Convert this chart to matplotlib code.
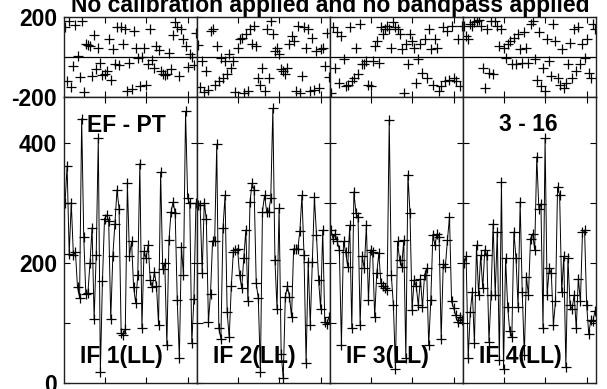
import matplotlib
matplotlib.use("Agg")
import matplotlib.pyplot as plt
import numpy as np

plt.rcParams['font.family'] = ['Liberation Sans', 'DejaVu Sans']
plt.rcParams['font.weight'] = 'bold'

title = "No calibration applied and no bandpass applied"
baseline_label = "EF - PT"
time_label = "3 - 16"
if_labels = ["IF 1(LL)", "IF 2(LL)", "IF 3(LL)", "IF 4(LL)"]
channels = list(range(1, 65))

amp_if1 = [300, 362, 215, 301, 214, 218, 160, 142, 441, 244, 148, 150, 200, 259, 107, 214,
           408, 19, 170, 274, 280, 270, 107, 212, 266, 322, 291, 84, 80, 90, 334, 212,
           236, 160, 133, 180, 366, 92, 220, 208, 230, 172, 160, 185, 162, 97, 352, 190,
           200, 63, 238, 285, 302, 283, 138, 41, 227, 180, 453, 308, 300, 66, 140, 300]
amp_if2 = [297, 297, 183, 301, 273, 102, 149, 237, 237, 398, 91, 74, 258, 313, 119, 76,
           161, 219, 222, 224, 180, 158, 208, 255, 136, 302, 333, 322, 166, 141, 19, 286,
           313, 286, 286, 308, 458, 205, 124, 292, 49, 8, 144, 161, 144, 110, 224, 223,
           224, 253, 313, 213, 33, 202, 97, 202, 310, 247, 172, 124, 255, 102, 99, 110]
amp_if3 = [255, 240, 249, 236, 222, 63, 236, 219, 194, 263, 91, 319, 283, 277, 97, 211,
           191, 263, 138, 222, 219, 110, 183, 216, 166, 161, 158, 155, 438, 180, 130, 24,
           236, 205, 194, 238, 41, 347, 283, 122, 172, 161, 130, 174, 127, 180, 191, 63,
           138, 247, 230, 249, 244, 74, 199, 194, 238, 277, 136, 125, 113, 102, 110, 105]
amp_if4 = [200, 211, 41, 119, 152, 66, 230, 147, 213, 158, 222, 213, 69, 147, 266, 147,
           252, 38, 336, 24, 208, 127, 86, 77, 252, 208, 127, 302, 152, 47, 177, 147,
           241, 249, 222, 377, 291, 299, 91, 408, 147, 191, 183, 97, 136, 327, 313, 152,
           211, 27, 208, 130, 124, 147, 91, 174, 136, 252, 255, 130, 82, 105, 103, 120]

phase_if1 = [150, -120, 178, -151, -45, 161, 5, -101, 178, -175, 67, 60, 55, -96, 111, -62,
             47, -29, -91, -84, -71, 89, -113, 39, -34, 151, -40, 148, 67, 139, -170, -29,
             -158, 128, 47, -3, -146, 0, 47, -138, -37, 139, -17, -54, 55, 34, -71, -84,
             -91, -87, 22, -62, 111, 173, 151, -96, 139, 89, 55, -50, 17, 0, -40, 120]
phase_if2 = [60, -150, -20, -175, -71, -163, 131, 139, -138, 55, -121, -3, -104, -20, -87, 13,
             -54, -20, -175, 47, 89, 97, -178, 114, -171, 139, 64, 156, 55, -104, -138, -54,
             -171, 139, -104, 178, 114, 30, 47, 13, -62, -71, -87, -54, 64, 106, 81, -171,
             156, -178, -96, 148, 47, 139, -171, 97, -163, 30, -155, 39, 47, -45, 120, -100]
phase_if3 = [-178, 148, -54, 123, -129, 106, -12, -146, -138, 148, -121, -104, 47, -87, 165, -37,
             -37, -20, -138, -146, -20, 55, 81, -29, 148, 114, 139, 156, 139, 47, 173, 148,
             139, 114, 39, -178, 64, -37, 114, 81, 47, -129, -12, 64, -79, 89, -104, 139,
             39, -138, 89, 47, -171, -146, 148, -121, 131, -113, 156, -104, -121, 89, -146, 156]
phase_if4 = [156, 106, 89, 165, 156, 173, 178, 185, 156, -54, -155, 139, -79, 180, -87, 180,
             156, 55, 139, 47, -3, 64, 81, -37, 97, -37, 114, 39, -29, 123, 47, -29,
             165, 178, -12, -113, 123, -146, -54, -171, 89, -20, -96, 165, 81, -104,
             -138, 39, -155, -129, -37, 72, -104, 139, -71, 148, -37, 64, -3, 89, -79, -104, 165, 139]

amps = [amp_if1, amp_if2, amp_if3, amp_if4]
phases = [phase_if1, phase_if2, phase_if3, phase_if4]

W, H = 607, 389
fig = plt.figure(figsize=(W / 100, H / 100), dpi=100)

x0, pw = 64, 133
fs = 16.5
spine_col = '#202020'

for k in range(4):
    left = (x0 + pw * k) / W
    axp = fig.add_axes([left, 1 - 97 / H, pw / W, 80 / H])
    axa = fig.add_axes([left, 1 - 383 / H, pw / W, 286 / H])

    axp.plot(channels, phases[k], ls='none', marker='+', ms=7, mew=0.9, color='black')
    axp.axhline(0, color='black', lw=0.9)
    axp.set_ylim(-200, 200)
    axa.plot(channels, amps[k], color='black', lw=0.7, marker='+', ms=7, mew=0.9)
    axa.set_ylim(0, 477)

    for ax in (axp, axa):
        ax.set_xlim(0.5, 64.5)
        ax.set_xticks([20, 40, 60])
        ax.tick_params(direction='in', length=4.5, width=0.8, top=True, right=True,
                       labelbottom=False, labelsize=fs, pad=5, colors='black')
        for s in ax.spines.values():
            s.set_linewidth(1.0)
            s.set_color(spine_col)

    axp.set_yticks([-200, 200])
    axa.set_yticks([0, 100, 200, 300, 400])
    if k == 0:
        axp.set_yticklabels(['-200', '200'], fontweight='bold')
        axa.set_yticklabels(['0', '', '200', '', '400'], fontweight='bold')
    else:
        axp.set_yticklabels([])
        axa.set_yticklabels([])

    axa.text(16 / pw, 0.07, if_labels[k], transform=axa.transAxes, fontsize=fs,
             fontweight='bold', ha='left', va='baseline')
    if k == 0:
        axa.text(23 / pw, 0.879, baseline_label, transform=axa.transAxes, fontsize=fs,
                 fontweight='bold', ha='left', va='baseline')
    if k == 3:
        axa.text(36 / pw, 0.882, time_label, transform=axa.transAxes, fontsize=fs,
                 fontweight='bold', ha='left', va='baseline')

fig.text(330 / W, 1 - 12 / H, title, ha='center', va='baseline', fontsize=fs,
         fontweight='bold')

fig.savefig('out.png', dpi=100)
